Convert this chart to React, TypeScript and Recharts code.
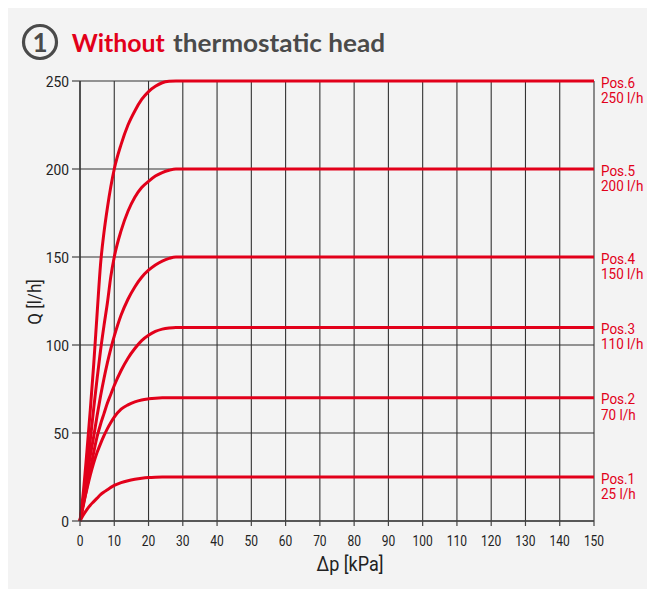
import React from 'react';
import { LineChart, Line, XAxis, YAxis, CartesianGrid } from 'recharts';

// Δp values (kPa) at which the curves were read
const DP = [0, 1, 2, 3, 4, 5, 6, 7, 8, 9, 10, 12, 14, 16, 18, 20, 22, 24, 26, 28, 30, 150];
// Flow Q (l/h) per preset position
const POS1 = [0, 3.5, 6.5, 9, 11, 13, 15, 16.5, 17.8, 19.1, 20.2, 21.8, 22.9, 23.7, 24.3, 24.7, 24.9, 25, 25, 25, 25, 25];
const POS2 = [0, 10, 18, 26, 33, 39, 44, 48.5, 52.5, 56, 59, 63.5, 66, 67.7, 68.8, 69.4, 69.8, 70, 70, 70, 70, 70];
const POS3 = [0, 9, 19, 29, 39, 48, 55, 61, 67, 72, 77, 85.5, 92.5, 98, 102.5, 105.5, 107.7, 109, 109.7, 110, 110, 110];
const POS4 = [0, 11, 24, 37, 48, 60, 71, 81, 90, 98, 105, 117, 126, 133, 138.5, 142.5, 145.5, 147.7, 149.2, 150, 150, 150];
const POS5 = [0, 13, 29, 46, 64, 81, 97, 111, 124, 139, 150, 165, 176, 184, 189.5, 193, 196, 198, 199.3, 200, 200, 200];
const POS6 = [0, 17, 39, 63, 89, 118, 146, 164, 178, 190, 200, 214, 225, 233, 239.5, 244, 247, 249, 249.8, 250, 250, 250];

const SERIES_KEYS = ['pos1', 'pos2', 'pos3', 'pos4', 'pos5', 'pos6'];
const SERIES_VALUES = [POS1, POS2, POS3, POS4, POS5, POS6];
const SERIES_NAMES = ['Pos.1', 'Pos.2', 'Pos.3', 'Pos.4', 'Pos.5', 'Pos.6'];
const SERIES_FLOW = ['25 l/h', '70 l/h', '110 l/h', '150 l/h', '200 l/h', '250 l/h'];

const X_TICKS = [0, 10, 20, 30, 40, 50, 60, 70, 80, 90, 100, 110, 120, 130, 140, 150];
const Y_TICKS = [0, 50, 100, 150, 200, 250];

const TITLE_NUMBER = '1';
const TITLE_RED = 'Without';
const TITLE_REST = 'thermostatic head';
const X_LABEL = 'Δp [kPa]';
const Y_LABEL = 'Q [l/h]';

const RED = '#e2001a';
const DARK = '#4a4a4a';
const BG = '#f3f3f3';
const FONT = 'Roboto, "Noto Sans", sans-serif';
const TITLE_FONT = 'Lato, "Open Sans", sans-serif';

const data = DP.map((dp, i) => {
  const row: Record<string, number> = { dp };
  SERIES_KEYS.forEach((k, j) => {
    row[k] = SERIES_VALUES[j][i];
  });
  return row;
});

const XTick = (props: any) => {
  const { x, y, payload } = props;
  return (
    <g transform={`translate(${x},${y})`}>
      <text transform="scale(0.8,1)" x={0} y={0} dy={18} textAnchor="middle" fontSize={15} fill="#222" fontFamily={FONT}>
        {payload.value}
      </text>
    </g>
  );
};

const YTick = (props: any) => {
  const { x, y, payload } = props;
  return (
    <g transform={`translate(${x - 1},${y})`}>
      <text transform="scale(0.92,1)" x={0} y={0} dy={6} textAnchor="end" fontSize={15} fill="#222" fontFamily={FONT}>
        {payload.value}
      </text>
    </g>
  );
};

const XLabel = (props: any) => {
  const vb = props.viewBox || {};
  const cx = vb.x + vb.width / 2 + 13;
  const by = vb.y + 50;
  return (
    <g transform={`translate(${cx},${by})`}>
      <text transform="scale(0.9,1)" x={0} y={0} textAnchor="middle" fontSize={20} fill="#222" fontFamily={FONT}>
        {X_LABEL}
      </text>
    </g>
  );
};

const YLabel = (props: any) => {
  const vb = props.viewBox || {};
  const bx = vb.x + 33;
  const cy = vb.y + vb.height / 2 + 1;
  return (
    <g transform={`translate(${bx},${cy}) rotate(-90)`}>
      <text transform="scale(0.95,1)" x={0} y={0} textAnchor="middle" fontSize={18} fill="#222" fontFamily={FONT}>
        {Y_LABEL}
      </text>
    </g>
  );
};

const makeEndLabel = (j: number) => (props: any) => {
  const { x, y, index } = props;
  if (index !== DP.length - 1) return null;
  return (
    <g>
      <g transform={`translate(${x + 7},${y + 6.5})`}>
        <text transform="scale(0.9,1)" x={0} y={0} fontSize={15} fill={RED} fontFamily={FONT}>
          {SERIES_NAMES[j]}
        </text>
      </g>
      <g transform={`translate(${x + 7},${y + 22})`}>
        <text transform="scale(0.9,1)" x={0} y={0} fontSize={15} fill={RED} fontFamily={FONT}>
          {SERIES_FLOW[j]}
        </text>
      </g>
    </g>
  );
};

export default function App() {
  return (
    <div style={{ position: 'relative', width: 640, height: 581, background: BG }}>
      <svg width={640} height={60} style={{ position: 'absolute', left: 0, top: 0 }}>
        <circle cx={32} cy={34} r={16.5} fill="none" stroke={DARK} strokeWidth={3.2} />
        <text x={32} y={43.5} textAnchor="middle" fontSize={26} fontWeight={700} fill={DARK} fontFamily={TITLE_FONT}>
          {TITLE_NUMBER}
        </text>
        <text x={63.7} y={43.7} fontSize={25} fontWeight={700} fill={RED} fontFamily={TITLE_FONT} textLength={93} lengthAdjust="spacingAndGlyphs">
          {TITLE_RED}
        </text>
        <text x={165} y={43.7} fontSize={25} fontWeight={700} fill={DARK} fontFamily={TITLE_FONT} textLength={212} lengthAdjust="spacingAndGlyphs">
          {TITLE_REST}
        </text>
      </svg>
      <div style={{ position: 'absolute', left: 0, top: 0 }}>
        <LineChart width={640} height={581} data={data} margin={{ top: 73, right: 54, left: 0, bottom: 0 }}>
          <CartesianGrid stroke="#333" strokeWidth={1.1} />
          <XAxis
            dataKey="dp"
            type="number"
            domain={[0, 150]}
            ticks={X_TICKS}
            interval={0}
            height={68}
            tickSize={5}
            tickMargin={2}
            axisLine={{ stroke: '#444', strokeWidth: 1.3 }}
            tickLine={{ stroke: '#444', strokeWidth: 1.2 }}
            tick={<XTick />}
            label={<XLabel />}
          />
          <YAxis
            type="number"
            domain={[0, 250]}
            ticks={Y_TICKS}
            interval={0}
            width={72}
            tickSize={8}
            tickMargin={2}
            axisLine={{ stroke: '#333', strokeWidth: 1.3 }}
            tickLine={{ stroke: '#444', strokeWidth: 1.2 }}
            tick={<YTick />}
            label={<YLabel />}
          />
          {SERIES_KEYS.map((k, j) => (
            <Line
              key={k}
              dataKey={k}
              type="monotone"
              stroke={RED}
              strokeWidth={3}
              dot={false}
              activeDot={false}
              isAnimationActive={false}
              label={makeEndLabel(j)}
            />
          ))}
        </LineChart>
      </div>
    </div>
  );
}
